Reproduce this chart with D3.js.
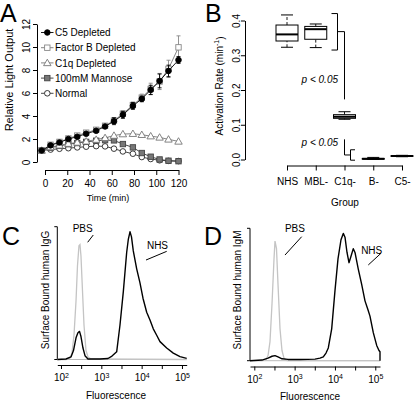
<!DOCTYPE html>
<html><head><meta charset="utf-8">
<script src="https://cdn.jsdelivr.net/npm/d3@7"></script>
<style>body{margin:0;background:#fff} svg{display:block}</style>
</head><body><svg id="fig" width="415" height="401"></svg>
<script>
// ---------- Panel A data ----------
const timeMin = [-3,5,13,21,29,37,46,54,62,70,79,87,95,103,111,120];
const c5Depleted = [1.0,1.45,1.7,2.0,2.2,2.46,2.72,3.09,3.55,4.1,4.88,5.49,6.27,7.05,7.92,8.87];
const c5Err = [0,0.05,0.05,0.08,0.08,0.1,0.12,0.15,0.3,0.3,0.3,0.25,0.4,0.6,0.5,0.3];
const factorBDepleted = [1.0,1.5,1.75,2.05,2.3,2.55,2.8,3.15,3.6,4.2,4.95,5.6,6.35,7.0,8.1,9.97];
const factorBErr = [0,0.05,0.05,0.08,0.08,0.1,0.12,0.15,0.2,0.25,0.25,0.3,0.5,0.7,0.75,1.0];
const c1qDepleted = [1.0,1.3,1.45,1.6,1.7,1.8,1.95,2.1,2.3,2.43,2.46,2.37,2.25,2.14,1.97,1.79];
const mannose100 = [1.0,1.25,1.4,1.55,1.65,1.75,1.85,1.9,1.88,1.56,1.27,0.78,0.46,0.22,0.11,0.07];
const normalSerum = [1.0,1.08,1.15,1.2,1.27,1.33,1.38,1.36,1.16,0.92,0.72,0.43,0.26,0.15,0.1,0.08];
const seriesNames = ["C5 Depleted","Factor B Depleted","C1q Depleted","100mM Mannose","Normal"];
const timeTicks = [0,20,40,60,80,100,120];
const rloTicks = [0,2,4,6,8,10,12];

// ---------- Panel B data ----------
const groups = ["NHS","MBL-","C1q-","B-","C5-"];
// [lower whisker, Q1, median, Q3, upper whisker]
const boxStats = [
  [0.323,0.341,0.360,0.387,0.416],
  [0.322,0.346,0.375,0.383,0.390],
  [0.1157,0.1185,0.123,0.129,0.1375],
  [0.0,0.001,0.002,0.003,0.006],
  [0.008,0.009,0.010,0.011,0.012]
];
const rateTicks = [0,0.1,0.2,0.3,0.4];
const pText = "p < 0.05";

// ---------- Panel C data (IgG) ----------
const cNhsFluor = [81,133,177,204,236,263,288,313,351,394,467,927,1462,1839,2405,2904,3508,4257,4667,5140,5600,6205,7534,9095,10800,13330,16100,19440,23600,28500,41800,60900,89300,131000];
const cNhsCount = [0,0.4,2,7,17,21,22,18,9,3,0.4,0.4,0.8,2.7,6,27,53,84,94,100,96,85,71,60,48,37,31,24,19,14,9,5,2.2,0.9];
const cPbsFluor = [81,133,167,187,210,236,256,279,296,313,341,372,417,467,555,131000];
const cPbsCount = [0,0,1,5,19,46,73,89,90,81,54,27,7,2,0.4,0];

// ---------- Panel D data (IgM) ----------
const dNhsFluor = [78,155,219,275,326,387,486,685,1358,3200,4257,5140,6000,6840,8300,10020,11900,14120,16100,17750,19900,22300,25000,28500,31400,37900,46000,55600,65900,73900,89300,108400,123600,131000,131000];
const dNhsCount = [0,0.5,2,3.5,4,3,1.5,1,1,1.2,2,3,6,10,25,55,80,95,100,97,85,77,82,88,85,72,60,47,40,35,22,12,8,7,0];
const dPbsFluor = [78,155,196,219,245,275,308,326,355,387,434,486,545,647,131000];
const dPbsCount = [0,0,1,4,15,45,80,94,88,60,25,8,2,0,0];

const fluorTicks = [100,316.23,1000,3162.3,10000,31623,100000];
const fluorExp = ["2","","3","","4","","5"];

// ---------- drawing ----------
const FONT = "'Liberation Sans', Arial, Helvetica, sans-serif";
const svg = d3.select("#fig").attr("font-family", FONT);
svg.append("rect").attr("width",415).attr("height",401).attr("fill","#fff");

function styleAxis(g, fs){
  g.attr("font-family", FONT).attr("font-size", fs||10);
  g.selectAll("path.domain").attr("stroke","#000").attr("stroke-width",1);
  g.selectAll(".tick line").attr("stroke","#000").attr("stroke-width",1);
  g.selectAll(".tick text").attr("fill","#000");
}
function rotateYLabels(g, k){
  g.selectAll(".tick text").attr("transform","rotate(-90)")
    .attr("x",0).attr("y",-k).attr("dy",0).attr("text-anchor","middle");
}

// panel letters
[["A",0,22],["B",205,22],["C",2,245],["D",204,245]].forEach(([t,x,y])=>{
  svg.append("text").attr("x",x).attr("y",y).attr("font-size",25).text(t);
});

// ===== Panel A =====
const xA = d3.scaleLinear().domain([0,120]).range([45,178.5]);
const yA = d3.scaleLinear().domain([0,12]).range([162,24]);
const gA = svg.append("g");
const axA = gA.append("g").attr("transform","translate(0,170)")
  .call(d3.axisBottom(xA).tickValues(timeTicks).tickSize(5).tickSizeOuter(0).tickPadding(5));
styleAxis(axA,10);
const ayA = gA.append("g").attr("transform","translate(37,0)")
  .call(d3.axisLeft(yA).tickValues(rloTicks).tickSize(4).tickSizeOuter(0));
styleAxis(ayA,10); rotateYLabels(ayA,7.5);
gA.append("text").attr("transform","translate(13,80) rotate(-90)").attr("text-anchor","middle")
  .attr("font-size",11).text("Relative Light Output");
gA.append("text").attr("x",108).attr("y",201).attr("text-anchor","middle").attr("font-size",9).text("Time (min)");

const seriesA = [
  {name:seriesNames[4], vals:normalSerum, line:"#333", shape:"circle", fill:"#fff", stroke:"#222"},
  {name:seriesNames[3], vals:mannose100, line:"#333", shape:"square", fill:"#777", stroke:"#444"},
  {name:seriesNames[2], vals:c1qDepleted, line:"#777", shape:"triangle", fill:"#fff", stroke:"#777"},
  {name:seriesNames[1], vals:factorBDepleted, err:factorBErr, line:"#777", shape:"square", fill:"#fff", stroke:"#888"},
  {name:seriesNames[0], vals:c5Depleted, err:c5Err, line:"#000", shape:"circle", fill:"#000", stroke:"#000"}
];
function drawMarker(g, shape, cx, cy, fill, stroke){
  if(shape==="circle") g.append("circle").attr("cx",cx).attr("cy",cy).attr("r",2.8).attr("fill",fill).attr("stroke",stroke).attr("stroke-width",0.9);
  else if(shape==="square") g.append("rect").attr("x",cx-2.7).attr("y",cy-2.7).attr("width",5.4).attr("height",5.4).attr("fill",fill).attr("stroke",stroke).attr("stroke-width",0.9);
  else g.append("path").attr("d",d3.symbol(d3.symbolTriangle,24)()).attr("transform",`translate(${cx},${cy+0.6})`).attr("fill",fill).attr("stroke",stroke).attr("stroke-width",0.9);
}
const lineA = d3.line().x((d,i)=>xA(timeMin[i])).y(d=>yA(d));
seriesA.forEach(s=>{
  const g = gA.append("g");
  g.append("path").attr("d",lineA(s.vals)).attr("fill","none").attr("stroke",s.line).attr("stroke-width",0.9);
  if(s.err){
    s.vals.forEach((v,i)=>{
      const e=s.err[i]; if(e<0.2) return;
      const x=xA(timeMin[i]), y1=yA(v-e), y2=yA(v+e);
      g.append("path").attr("d",`M${x},${y1}V${y2}M${x-2},${y1}H${x+2}M${x-2},${y2}H${x+2}`)
        .attr("stroke",s.stroke).attr("stroke-width",0.9).attr("fill","none");
    });
  }
  s.vals.forEach((v,i)=>drawMarker(g,s.shape,xA(timeMin[i]),yA(v),s.fill,s.stroke));
});
// legend
const legOrder = [4,3,2,1,0];
legOrder.forEach((k,i)=>{
  const s = seriesA[k]; const y = 32.5 + i*15.2;
  gA.append("line").attr("x1",41).attr("x2",53.5).attr("y1",y).attr("y2",y).attr("stroke",s.line).attr("stroke-width",0.9);
  drawMarker(gA,s.shape,47.3,y,s.fill,s.stroke);
  gA.append("text").attr("x",55).attr("y",y).attr("dy","0.36em").attr("font-size",10).text(s.name);
});

// ===== Panel B =====
const xB = d3.scalePoint().domain(groups).range([287,402]);
const yB = d3.scaleLinear().domain([0,0.4]).range([159.5,20.5]);
const gB = svg.append("g");
const axB = gB.append("g").attr("transform","translate(0,165.5)")
  .call(d3.axisBottom(xB).tickSize(5).tickSizeOuter(0).tickPadding(7));
styleAxis(axB,10);
const ayB = gB.append("g").attr("transform","translate(245,0)")
  .call(d3.axisLeft(yB).tickValues(rateTicks).tickSize(4).tickSizeOuter(0).tickFormat(d3.format(".1f")));
styleAxis(ayB,10); rotateYLabels(ayB,5.5);
const yt = gB.append("text").attr("transform","translate(222.5,86) rotate(-90)").attr("text-anchor","middle").attr("font-size",10);
yt.append("tspan").text("Activation Rate (min");
yt.append("tspan").attr("dy","-0.45em").attr("font-size",7).text("-1");
yt.append("tspan").attr("dy","0.45em").text(")");
gB.append("text").attr("x",345).attr("y",205.5).attr("text-anchor","middle").attr("font-size",10).text("Group");

const bw = 11;
boxStats.forEach((b,i)=>{
  const cx = xB(groups[i]); const g = gB.append("g");
  g.append("path").attr("d",`M${cx},${yB(b[0])}V${yB(b[1])}M${cx},${yB(b[3])}V${yB(b[4])}`)
    .attr("stroke","#000").attr("stroke-dasharray","3,2").attr("stroke-width",0.9);
  g.append("path").attr("d",`M${cx-6},${yB(b[0])}H${cx+6}M${cx-6},${yB(b[4])}H${cx+6}`)
    .attr("stroke","#000").attr("stroke-width",1);
  g.append("rect").attr("x",cx-bw).attr("y",yB(b[3])).attr("width",2*bw).attr("height",Math.max(0.5,yB(b[1])-yB(b[3])))
    .attr("fill","#fff").attr("stroke","#000").attr("stroke-width",1);
  g.append("line").attr("x1",cx-bw).attr("x2",cx+bw).attr("y1",yB(b[2])).attr("y2",yB(b[2]))
    .attr("stroke","#000").attr("stroke-width",2);
});
// significance brackets
const xc = xB("C1q-");
const upperSpan = [0.42,0.315], upperJoin = 0.368, upperEnd = 0.173;
const lowerStart = 0.058, lowerJoin = 0.013, lowerSpan = [0.028,-0.002];
gB.append("path").attr("fill","none").attr("stroke","#000").attr("stroke-width",1)
  .attr("d",`M${xc-13},${yB(upperSpan[0])}H${xc-7}V${yB(upperSpan[1])}H${xc-13}`+
            `M${xc-7},${yB(upperJoin)}H${xc}V${yB(upperEnd)}`+
            `M${xc},${yB(lowerStart)}V${yB(lowerJoin)}H${xc+6}`+
            `M${xc+10.5},${yB(lowerSpan[0])}H${xc+6}V${yB(lowerSpan[1])}H${xc+10.5}`);
gB.append("text").attr("x",xc-6.5).attr("y",yB(0.229)).attr("dy","0.35em").attr("text-anchor","end")
  .attr("font-size",10).attr("font-style","italic").text(pText);
gB.append("text").attr("x",xc-6.5).attr("y",yB(0.048)).attr("dy","0.35em").attr("text-anchor","end")
  .attr("font-size",10).attr("font-style","italic").text(pText);

// ===== Panels C & D =====
function flowPanel(o){
  const x = d3.scaleLog().domain([o.xmin,131000]).range([o.x0,o.x1]);
  const y = d3.scaleLinear().domain([0,104]).range([o.base,o.top]);
  const g = svg.append("g");
  // y axis
  g.append("path").attr("fill","none").attr("stroke","#000").attr("stroke-width",1)
    .attr("d",`M${o.x0-3},${y(104)}H${o.x0}V${y(0)}H${o.x0-3}`);
  // x axis
  const ax = g.append("g").attr("transform",`translate(0,${o.axisY})`)
    .call(d3.axisBottom(x).tickValues(fluorTicks).tickSize(4).tickSizeOuter(0).tickPadding(5).tickFormat(()=>""));
  styleAxis(ax,10);
  ax.selectAll(".tick text").each(function(d,i){
    const t = d3.select(this); if(!fluorExp[i]) return;
    t.text("10"); t.append("tspan").attr("dy","-0.5em").attr("font-size",7).text(fluorExp[i]);
  });
  g.append("text").attr("transform",`translate(${o.titleX},${o.titleY}) rotate(-90)`).attr("text-anchor","middle")
    .attr("font-size",10).text(o.ytitle);
  g.append("text").attr("x",o.fluorX).attr("y",o.fluorY).attr("text-anchor","middle").attr("font-size",10).text("Fluorescence");
  // baseline
  g.append("line").attr("x1",o.x0).attr("x2",o.x1).attr("y1",y(0)).attr("y2",y(0)).attr("stroke","#bbb").attr("stroke-width",1);
  const ln = d3.line().x(d=>x(d[0])).y(d=>y(d[1])).curve(d3.curveLinear);
  g.append("path").attr("d",ln(o.pbsF.map((f,i)=>[f,o.pbsC[i]]))).attr("fill","none").attr("stroke","#c4c4c4").attr("stroke-width",1.3);
  g.append("path").attr("d",ln(o.nhsF.map((f,i)=>[f,o.nhsC[i]]))).attr("fill","none").attr("stroke","#000").attr("stroke-width",1.4).attr("stroke-linejoin","round");
  // labels
  o.labels.forEach(L=>{
    g.append("text").attr("x",x(L.f)).attr("y",y(L.c)).attr("text-anchor","middle").attr("font-size",10).text(L.t);
    g.append("line").attr("x1",x(L.l[0])).attr("y1",y(L.l[1])).attr("x2",x(L.l[2])).attr("y2",y(L.l[3]))
      .attr("stroke","#000").attr("stroke-width",1);
  });
}
flowPanel({xmin:81,x0:57.3,x1:186.7,base:359.5,top:226.7,axisY:365,
  titleX:49,titleY:290,ytitle:"Surface Bound human IgG",fluorX:116,fluorY:398.5,
  nhsF:cNhsFluor,nhsC:cNhsCount,pbsF:cPbsFluor,pbsC:cPbsCount,
  labels:[{t:"PBS",f:345,c:100.2,l:[459,91.8,632,97.5]},{t:"NHS",f:24700,c:86.9,l:[12830,77.9,41800,84.7]}]});
flowPanel({xmin:78.2,x0:250,x1:380,base:360.7,top:228.3,axisY:366.5,
  titleX:241,titleY:290,ytitle:"Surface Bound human IgM",fluorX:310,fluorY:399.5,
  nhsF:dNhsFluor,nhsC:dNhsCount,pbsF:dPbsFluor,pbsC:dPbsCount,
  labels:[{t:"PBS",f:1020,c:101.3,l:[577,83,1496,97.4]},{t:"NHS",f:81500,c:84.2,l:[67100,75.2,138700,84.4]}]});
</script></body></html>
